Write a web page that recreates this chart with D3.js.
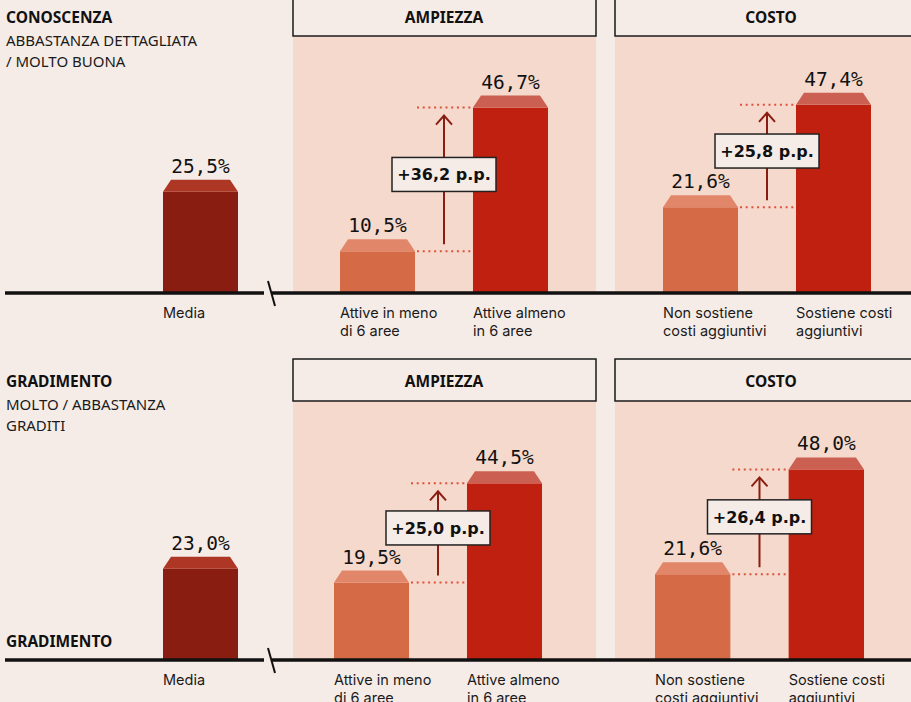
<!DOCTYPE html>
<html><head><meta charset="utf-8">
<script src="https://cdn.jsdelivr.net/npm/d3@7"></script>
<style>html,body{margin:0;padding:0;background:#f6ece7;} svg{display:block;}</style>
</head><body><svg id="c" width="911" height="702"></svg>
<script>
// ---- data ----
const rowTitles = ["CONOSCENZA", "GRADIMENTO"];
const rowSubtitles = [["ABBASTANZA DETTAGLIATA", "/ MOLTO BUONA"], ["MOLTO / ABBASTANZA", "GRADITI"]];
const panelTitles = ["AMPIEZZA", "COSTO"];
const mediaCategory = [["Media"]];
const mediaValues = [25.5, 23.0];
const ampiezzaCategories = [["Attive in meno", "di 6 aree"], ["Attive almeno", "in 6 aree"]];
const ampiezzaValues = [[10.5, 46.7], [19.5, 44.5]];
const costoCategories = [["Non sostiene", "costi aggiuntivi"], ["Sostiene costi", "aggiuntivi"]];
const costoValues = [[21.6, 47.4], [21.6, 48.0]];
const yDomain = [0, 50];
const footLabel = "GRADIMENTO";

// ---- layout ----
const W = 911, H = 702;
const baselines = [293, 660];
const headTop = [-6, 359], headBottom = [36, 401];
const titleY = [23, 387];
const mediaRange = [[163, 238], [163, 238]];
const ampRange = [[340, 548], [334, 542]];
const costoRange = [[663, 871], [655, 864]];
const panelX = [[293, 596], [615, 927]];
const colors = {
  page: "#f6ece7", panel: "#f5d9cc",
  media: ["#8a1d12", "#ad3724"],
  low: ["#d56a47", "#e2866a"],
  high: ["#c0200f", "#cb5f52"],
  dots: "#e0503c", arrow: "#8a1d12", ink: "#111"
};
const sans = "'Noto Sans', sans-serif";
const labelFont = "Inter, 'Noto Sans', sans-serif";
const mono = "'DejaVu Sans Mono', monospace";

const it = d3.formatLocale({decimal: ",", thousands: ".", grouping: [3], currency: ["€", ""]});
const f1 = it.format(".1f");

const svg = d3.select("#c");
svg.append("rect").attr("width", W).attr("height", H).attr("fill", colors.page);

rowTitles.forEach((title, r) => {
  const base = baselines[r];
  const g = svg.append("g");
  const y = d3.scaleLinear().domain(yDomain).range([base, base - 198.5]);

  // panel backgrounds + header boxes
  panelX.forEach((px, p) => {
    g.append("rect").attr("x", px[0]).attr("y", headBottom[r]).attr("width", px[1] - px[0])
      .attr("height", base - headBottom[r]).attr("fill", colors.panel);
    g.append("rect").attr("x", px[0]).attr("y", headTop[r]).attr("width", px[1] - px[0])
      .attr("height", headBottom[r] - headTop[r]).attr("fill", colors.page)
      .attr("stroke", "#1a1a1a").attr("stroke-width", 1.5);
    g.append("text").attr("x", p === 0 ? 444 : 771).attr("y", titleY[r])
      .attr("text-anchor", "middle").attr("font-family", sans).attr("font-weight", 700)
      .attr("font-size", 15.5).attr("fill", colors.ink).text(panelTitles[p]);
  });

  // row title
  g.append("text").attr("x", 6).attr("y", titleY[r]).attr("font-family", sans)
    .attr("font-weight", 700).attr("font-size", 15.5).attr("fill", colors.ink).text(title);
  rowSubtitles[r].forEach((s, i) => {
    g.append("text").attr("x", 6).attr("y", titleY[r] + 23 + i * 21).attr("font-family", sans)
      .attr("font-size", 15).attr("fill", "#1a1a1a").text(s);
  });

  // bars
  function drawBars(cats, vals, range, fills) {
    const x = d3.scaleBand().domain(cats.map(c => c.join(" "))).range(range)
      .paddingInner(cats.length > 1 ? 0.436 : 0).paddingOuter(0);
    const bw = x.bandwidth();
    cats.forEach((c, i) => {
      const key = c.join(" ");
      const x0 = x(key), v = vals[i], yt = y(v);
      const fill = fills[i];
      g.append("rect").attr("x", x0).attr("y", yt).attr("width", bw).attr("height", base - yt)
        .attr("fill", fill[0]);
      g.append("path").attr("d", `M${x0},${yt}L${x0 + 8},${yt - 12}L${x0 + bw - 8},${yt - 12}L${x0 + bw},${yt}Z`)
        .attr("fill", fill[1]);
      g.append("text").attr("x", x0 + bw / 2).attr("y", yt - 19).attr("text-anchor", "middle")
        .attr("font-family", mono).attr("font-size", 19.5).attr("fill", colors.ink)
        .text(f1(v) + "%");
      c.forEach((line, li) => {
        g.append("text").attr("x", x0).attr("y", base + 25 + li * 18).attr("font-family", labelFont)
          .attr("font-size", 14.5).attr("fill", "#1a1a1a").text(line);
      });
    });
    return {x, bw};
  }

  drawBars(mediaCategory, [mediaValues[r]], mediaRange[r], [colors.media]);

  [[ampiezzaCategories, ampiezzaValues[r], ampRange[r]], [costoCategories, costoValues[r], costoRange[r]]]
    .forEach(([cats, vals, range]) => {
      const {x, bw} = drawBars(cats, vals, range, [colors.low, colors.high]);
      const a = x(cats[0].join(" ")) + bw, b = x(cats[1].join(" "));
      const mid = (a + b) / 2;
      const yl = y(vals[0]), yh = y(vals[1]);
      [yl, yh].forEach(yy => {
        g.append("line").attr("x1", a + 2).attr("x2", b).attr("y1", yy).attr("y2", yy)
          .attr("stroke", colors.dots).attr("stroke-width", 2).attr("stroke-dasharray", "2 3.7");
      });
      const tip = yh + 8;
      g.append("line").attr("x1", mid).attr("x2", mid).attr("y1", yl - 7).attr("y2", tip + 1)
        .attr("stroke", colors.arrow).attr("stroke-width", 2);
      g.append("path").attr("d", `M${mid - 8},${tip + 9}L${mid},${tip}L${mid + 8},${tip + 9}`)
        .attr("fill", "none").attr("stroke", colors.arrow).attr("stroke-width", 2);
      const cy = (yl + yh) / 2 - 5;
      g.append("rect").attr("x", mid - 52).attr("y", cy - 17).attr("width", 104).attr("height", 34)
        .attr("fill", colors.page).attr("stroke", "#222").attr("stroke-width", 1.5);
      g.append("text").attr("x", mid).attr("y", cy + 6).attr("text-anchor", "middle")
        .attr("font-family", "'DejaVu Sans', sans-serif").attr("font-weight", 700).attr("font-size", 16)
        .attr("fill", colors.ink).text("+" + f1(vals[1] - vals[0]) + " p.p.");
    });

  // baseline with break
  g.append("line").attr("x1", 5).attr("x2", 264).attr("y1", base).attr("y2", base)
    .attr("stroke", colors.ink).attr("stroke-width", 3.5);
  g.append("line").attr("x1", 272).attr("x2", W).attr("y1", base).attr("y2", base)
    .attr("stroke", colors.ink).attr("stroke-width", 3.5);
  g.append("line").attr("x1", 268).attr("x2", 275).attr("y1", base - 12).attr("y2", base + 13)
    .attr("stroke", colors.ink).attr("stroke-width", 2);

  if (r === 1) {
    g.append("text").attr("x", 6).attr("y", base - 13).attr("font-family", sans)
      .attr("font-weight", 700).attr("font-size", 15.5).attr("fill", colors.ink).text(footLabel);
  }
});
</script></body></html>
